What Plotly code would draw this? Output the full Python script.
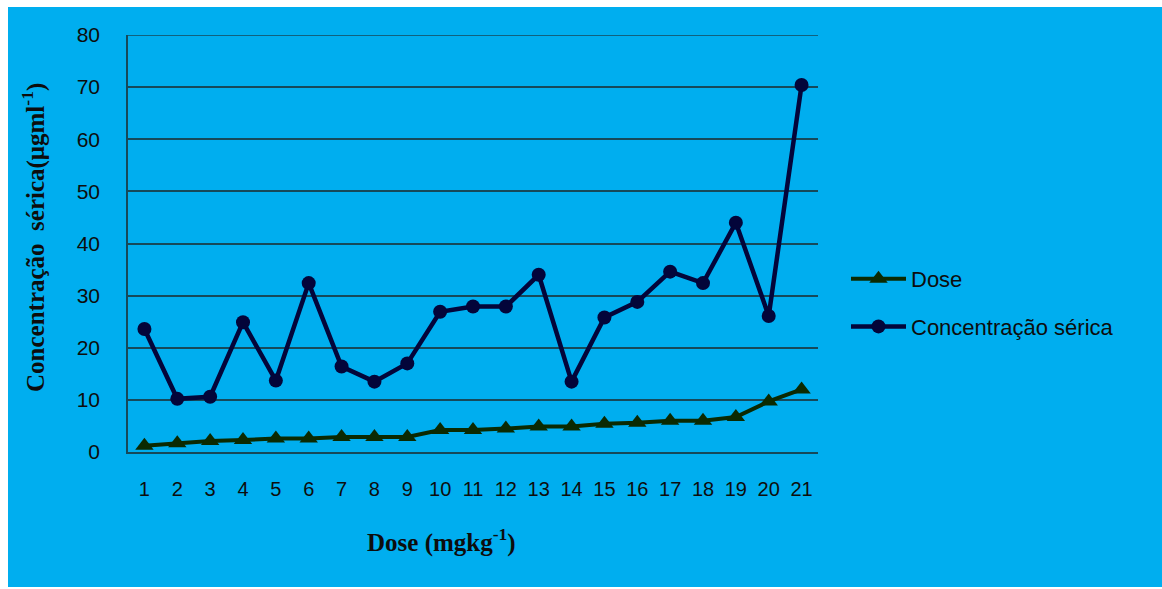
import plotly.graph_objects as go

# Sample numbers (categories on the x axis)
amostras = [str(i) for i in range(1, 22)]

# Administered dose (mg/kg) per sample
dose = [1.2, 1.7, 2.1, 2.3, 2.6, 2.6, 2.9, 2.9, 2.9, 4.2, 4.2,
        4.5, 4.9, 4.9, 5.4, 5.6, 6.0, 6.0, 6.7, 9.7, 12.0]

# Serum concentration (µg/ml) per sample
concentracao = [23.6, 10.2, 10.6, 24.9, 13.7, 32.4, 16.4, 13.5, 17.0, 26.9, 27.9,
                27.9, 34.0, 13.5, 25.8, 28.8, 34.6, 32.4, 44.0, 26.1, 70.4]

y_ticks = [0, 10, 20, 30, 40, 50, 60, 70, 80]

BG = "#00AEEF"
GRID = "#16495a"
TXT = "#0d0d0d"

W, H = 1162, 589
L, R, T, B = 128, 818, 35, 452
pw, ph = R - L, B - T


def px(x):
    return (x - L) / pw


def py(y):
    return (B - y) / ph


fig = go.Figure()

fig.add_trace(go.Scatter(
    x=amostras, y=dose, name="Dose", mode="lines+markers",
    line=dict(color="#0b2a02", width=4),
    marker=dict(symbol="triangle-up", size=16, color="#0b2a02"),
    legendgroup="a",
))
fig.add_trace(go.Scatter(
    x=amostras, y=concentracao, name="Concentração sérica", mode="lines+markers",
    line=dict(color="#03053a", width=4.5),
    marker=dict(symbol="circle", size=14, color="#03053a"),
    legendgroup="b",
))

shapes = []
# white frame around the blue panel
for x0, y0, x1, y1 in [(0, 0, 8, H), (0, 0, W, 7), (0, 587, W, H)]:
    shapes.append(dict(type="rect", xref="paper", yref="paper",
                       x0=px(x0), x1=px(x1), y0=py(y1), y1=py(y0),
                       fillcolor="white", line=dict(width=0), layer="above"))
# top gridline at 80
shapes.append(dict(type="line", xref="paper", yref="y", x0=0, x1=1, y0=80, y1=80,
                   line=dict(color=GRID, width=1.5), layer="below"))

fig.update_layout(
    width=W, height=H,
    margin=dict(l=L, r=W - R, t=T, b=H - B),
    paper_bgcolor=BG, plot_bgcolor=BG,
    shapes=shapes,
    font=dict(family="Liberation Sans, Arial, sans-serif", size=20, color=TXT),
    showlegend=True,
    legend=dict(
        x=px(846), y=py(303), xanchor="left", yanchor="middle",
        bgcolor="rgba(0,0,0,0)", font=dict(size=22, color=TXT),
        itemwidth=55, tracegroupgap=16,
    ),
    xaxis=dict(
        type="category", showgrid=False, showline=True, linecolor=GRID, linewidth=1.5,
        ticks="", ticklabelstandoff=18, tickfont=dict(size=20),
        range=[-0.5, 20.5], fixedrange=True,
    ),
    yaxis=dict(
        range=[0, 80], tickvals=y_ticks, showgrid=True, gridcolor=GRID, gridwidth=1.5,
        showline=True, linecolor=GRID, linewidth=1.5, zeroline=False,
        ticks="", ticklabelstandoff=22, tickfont=dict(size=21),
    ),
    annotations=[
        dict(text="<b>Dose (mgkg<sup>-1</sup>)</b>", xref="paper", yref="paper",
             x=px(441), y=py(540), xanchor="center", yanchor="middle", showarrow=False,
             font=dict(family="Liberation Serif, Times New Roman, serif", size=25, color=TXT)),
        dict(text="<b>Concentração  sérica(μgml<sup>-1</sup>)</b>", xref="paper", yref="paper",
             x=px(33), y=py(238), xanchor="center", yanchor="middle", showarrow=False,
             textangle=-90,
             font=dict(family="Liberation Serif, Times New Roman, serif", size=25, color=TXT)),
    ],
)

fig.write_html("out.html")
